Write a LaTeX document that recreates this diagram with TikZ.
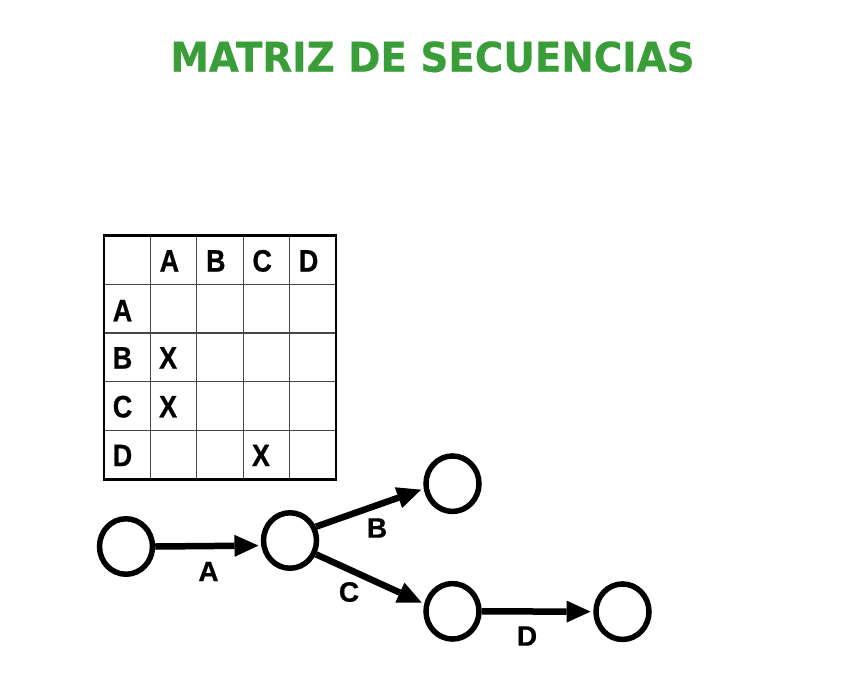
\documentclass[tikz,border=0pt]{standalone}
\usepackage{fontspec}
\setmainfont{Liberation Sans}
\newfontfamily\heavysans[FakeBold=0.7]{Liberation Sans Bold}
\newfontfamily\titlefont[FakeBold=0.5]{DejaVu Sans Bold}
\usetikzlibrary{shapes.geometric,arrows.meta}
\definecolor{titlegreen}{RGB}{58,158,56}
\definecolor{gridgray}{RGB}{70,70,70}
\newcommand{\celltxt}[1]{\scalebox{0.87}[1]{#1}}
\begin{document}
\begin{tikzpicture}[x=1pt,y=-1pt,
  evt/.style={draw=black,line width=5.5pt,ellipse,inner sep=0pt,minimum width=53pt,minimum height=55.5pt,fill=white},
  act/.style={draw=black,line width=6.5pt,-{Triangle[length=24pt,width=22pt,line width=0pt]},shorten >=2.7pt},
  cell/.style={font=\heavysans\fontsize{31}{31}\selectfont,inner sep=0pt,anchor=center},
  lbl/.style={font=\heavysans\fontsize{28}{28}\selectfont,inner sep=0pt,anchor=center},
  inner/.style={draw=gridgray,line width=1.3pt},
  outer/.style={draw=black,line width=2.8pt}
]
\useasboundingbox[fill=white] (0,0) rectangle (864,672);

% title
\node[anchor=base,inner sep=0pt,text=titlegreen] (title) at (432.5,71.7)
  {\titlefont\fontsize{41}{41}\selectfont\scalebox{0.946}[1]{MATRIZ DE SECUENCIAS}};

% table grid
\foreach \i in {1,2,3,4} {
  \draw[inner] ({104+46.4*\i},235.5) -- ({104+46.4*\i},479.3);
  \draw[inner] (104,{235.5+48.76*\i}) -- (336,{235.5+48.76*\i});
}
\draw[outer] (104,235.5) rectangle (336,479.3);

% header texts
\node[cell] (hA) at ({104+46.4*1.5-4.2},{235.5+48.76*0.5+1}) {\celltxt{A}};
\node[cell] (hB) at ({104+46.4*2.5-4.2},{235.5+48.76*0.5+1}) {\celltxt{B}};
\node[cell] (hC) at ({104+46.4*3.5-4.2},{235.5+48.76*0.5+1}) {\celltxt{C}};
\node[cell] (hD) at ({104+46.4*4.5-4.2},{235.5+48.76*0.5+1}) {\celltxt{D}};
\node[cell] (rA) at ({104+46.4*0.5-4.7},{235.5+48.76*1.5+2}) {\celltxt{A}};
\node[cell] (rB) at ({104+46.4*0.5-4.7},{235.5+48.76*2.5+0.5}) {\celltxt{B}};
\node[cell] (rC) at ({104+46.4*0.5-4.7},{235.5+48.76*3.5+0.5}) {\celltxt{C}};
\node[cell] (rD) at ({104+46.4*0.5-4.7},{235.5+48.76*4.5+0.5}) {\celltxt{D}};
% marks
\node[cell] (xBA) at ({104+46.4*1.5-5.5},{235.5+48.76*2.5+0.5}) {\celltxt{X}};
\node[cell] (xCA) at ({104+46.4*1.5-5.5},{235.5+48.76*3.5+0.5}) {\celltxt{X}};
\node[cell] (xDC) at ({104+46.4*3.5-5.5},{235.5+48.76*4.5+0.5}) {\celltxt{X}};

% network
\node[evt] (c1) at (126,546.5) {};
\node[evt] (c2) at (290,540.5) {};
\node[evt] (c3) at (452.5,483.7) {};
\node[evt] (c4) at (452.5,611.3) {};
\node[evt] (c5) at (622.5,611.7) {};

\draw[act] (c1.east) -- (c2.190);
\draw[act] (c2.28) -- (c3.190);
\draw[act] (c2.332) -- (c4.165);
\draw[act] (c4) -- (c5);

\node[lbl] (lA) at (208.5,571.5) {A};
\node[lbl] (lB) at (377,528) {B};
\node[lbl] (lC) at (349,592) {C};
\node[lbl] (lD) at (527,636) {D};
\end{tikzpicture}
\end{document}
